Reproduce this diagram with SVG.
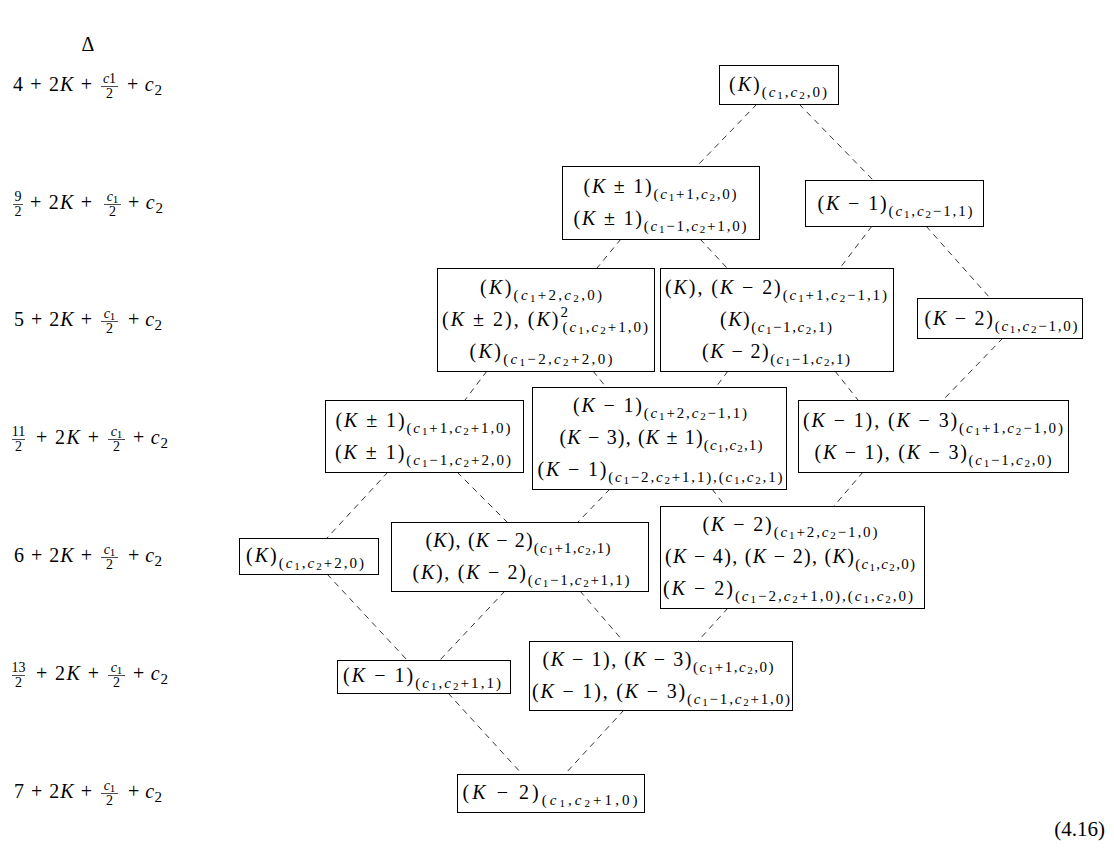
<svg xmlns="http://www.w3.org/2000/svg" width="1114" height="857" viewBox="0 0 1114 857">
<style>
text{font-family:"Liberation Serif","Times New Roman",serif;font-size:20px;fill:#000}
.i{font-style:italic}
.s{font-size:15px}
.ss{font-size:11px}
.f{font-size:14px}
.m{text-anchor:middle}
.bx{fill:#fff;stroke:#000;stroke-width:1}
.cn line{stroke:#000;stroke-width:0.8;stroke-dasharray:6 5;fill:none}
.fb{stroke:#000;stroke-width:0.7}
</style>
<rect width="1114" height="857" fill="#fff"/>
<g id="labels">
<text x="88" y="51" class="m">Δ</text>
<text x="13" y="91" textLength="79">4 + 2<tspan class="i">K</tspan> +</text>
<text x="109.5" y="83" class="m f"><tspan class="i">c</tspan>1</text><line class="fb" x1="101" y1="86.5" x2="118" y2="86.5"/><text x="109.5" y="98" class="m f">2</text>
<text x="127" y="91" textLength="35">+ <tspan class="i">c</tspan><tspan class="s" dy="4">2</tspan></text>

<text x="18" y="201" class="m f">9</text><line class="fb" x1="13" y1="204.5" x2="23" y2="204.5"/><text x="18" y="216" class="m f">2</text>
<text x="30" y="209" textLength="62">+ 2<tspan class="i">K</tspan> +</text>
<text x="112.5" y="201" class="m f"><tspan class="i">c</tspan><tspan class="ss" dy="2">1</tspan></text><line class="fb" x1="104" y1="204.5" x2="121" y2="204.5"/><text x="112.5" y="216" class="m f">2</text>
<text x="128" y="209" textLength="35">+ <tspan class="i">c</tspan><tspan class="s" dy="4">2</tspan></text>

<text x="14" y="326" textLength="78">5 + 2<tspan class="i">K</tspan> +</text>
<text x="109.5" y="318" class="m f"><tspan class="i">c</tspan><tspan class="ss" dy="2">1</tspan></text><line class="fb" x1="101" y1="321.5" x2="118" y2="321.5"/><text x="109.5" y="333" class="m f">2</text>
<text x="128" y="326" textLength="34">+ <tspan class="i">c</tspan><tspan class="s" dy="4">2</tspan></text>

<text x="18.5" y="436" class="m f">11</text><line class="fb" x1="12" y1="439.5" x2="25" y2="439.5"/><text x="18.5" y="451" class="m f">2</text>
<text x="36" y="444" textLength="63">+ 2<tspan class="i">K</tspan> +</text>
<text x="116.5" y="436" class="m f"><tspan class="i">c</tspan><tspan class="ss" dy="2">1</tspan></text><line class="fb" x1="108" y1="439.5" x2="125" y2="439.5"/><text x="116.5" y="451" class="m f">2</text>
<text x="133" y="444" textLength="35">+ <tspan class="i">c</tspan><tspan class="s" dy="4">2</tspan></text>

<text x="14" y="562" textLength="78">6 + 2<tspan class="i">K</tspan> +</text>
<text x="109.5" y="554" class="m f"><tspan class="i">c</tspan><tspan class="ss" dy="2">1</tspan></text><line class="fb" x1="101" y1="557.5" x2="118" y2="557.5"/><text x="109.5" y="569" class="m f">2</text>
<text x="128" y="562" textLength="34">+ <tspan class="i">c</tspan><tspan class="s" dy="4">2</tspan></text>

<text x="18.5" y="672" class="m f">13</text><line class="fb" x1="12" y1="675.5" x2="25" y2="675.5"/><text x="18.5" y="687" class="m f">2</text>
<text x="36" y="680" textLength="63">+ 2<tspan class="i">K</tspan> +</text>
<text x="116.5" y="672" class="m f"><tspan class="i">c</tspan><tspan class="ss" dy="2">1</tspan></text><line class="fb" x1="108" y1="675.5" x2="125" y2="675.5"/><text x="116.5" y="687" class="m f">2</text>
<text x="133" y="680" textLength="35">+ <tspan class="i">c</tspan><tspan class="s" dy="4">2</tspan></text>

<text x="14" y="798" textLength="78">7 + 2<tspan class="i">K</tspan> +</text>
<text x="109.5" y="790" class="m f"><tspan class="i">c</tspan><tspan class="ss" dy="2">1</tspan></text><line class="fb" x1="101" y1="793.5" x2="118" y2="793.5"/><text x="109.5" y="805" class="m f">2</text>
<text x="128" y="798" textLength="34">+ <tspan class="i">c</tspan><tspan class="s" dy="4">2</tspan></text>

<text x="1105" y="836" text-anchor="end" style="font-size:21px">(4.16)</text>
</g>
<g id="connectors" class="cn">
<line x1="757" y1="104" x2="697" y2="166"/>
<line x1="799" y1="104" x2="873" y2="180"/>
<line x1="621" y1="239" x2="597" y2="268"/>
<line x1="700" y1="239" x2="727" y2="268"/>
<line x1="872" y1="226" x2="840" y2="268"/>
<line x1="926" y1="226" x2="990" y2="298"/>
<line x1="487" y1="371" x2="465" y2="400"/>
<line x1="593" y1="371" x2="606" y2="387"/>
<line x1="728" y1="371" x2="716" y2="387"/>
<line x1="835" y1="371" x2="858" y2="400"/>
<line x1="1003" y1="338" x2="943" y2="400"/>
<line x1="388" y1="472" x2="327" y2="538"/>
<line x1="457" y1="472" x2="507" y2="522"/>
<line x1="610" y1="489" x2="578" y2="522"/>
<line x1="712" y1="489" x2="725" y2="506"/>
<line x1="863" y1="472" x2="834" y2="506"/>
<line x1="327" y1="574" x2="407" y2="660"/>
<line x1="505" y1="591" x2="440" y2="660"/>
<line x1="580" y1="591" x2="623" y2="641"/>
<line x1="728" y1="608" x2="698" y2="641"/>
<line x1="448" y1="693" x2="522" y2="774"/>
<line x1="624" y1="710" x2="565" y2="774"/>
</g>
<g id="n1"><rect class="bx" x="719.5" y="65.5" width="119" height="39"/>
<text x="778" y="91" class="m" textLength="98">(<tspan class="i">K</tspan>)<tspan class="s" dy="5.5">(<tspan class="i">c</tspan><tspan class="ss" dy="2.5">1</tspan><tspan dy="-2.5">,</tspan><tspan class="i">c</tspan><tspan class="ss" dy="2.5">2</tspan><tspan dy="-2.5">,0)</tspan></tspan></text></g>
<g id="n2"><rect class="bx" x="562.5" y="166.5" width="197" height="73"/>
<text x="660" y="193" class="m" textLength="153">(<tspan class="i">K</tspan> ± 1)<tspan class="s" dy="5.5">(<tspan class="i">c</tspan><tspan class="ss" dy="2.5">1</tspan><tspan dy="-2.5">+1,</tspan><tspan class="i">c</tspan><tspan class="ss" dy="2.5">2</tspan><tspan dy="-2.5">,0)</tspan></tspan></text>
<text x="660" y="225" class="m" textLength="173">(<tspan class="i">K</tspan> ± 1)<tspan class="s" dy="5.5">(<tspan class="i">c</tspan><tspan class="ss" dy="2.5">1</tspan><tspan dy="-2.5">−1,</tspan><tspan class="i">c</tspan><tspan class="ss" dy="2.5">2</tspan><tspan dy="-2.5">+1,0)</tspan></tspan></text></g>
<g id="n3"><rect class="bx" x="805.5" y="180.5" width="178" height="46"/>
<text x="895" y="210" class="m" textLength="155">(<tspan class="i">K</tspan> − 1)<tspan class="s" dy="5.5">(<tspan class="i">c</tspan><tspan class="ss" dy="2.5">1</tspan><tspan dy="-2.5">,</tspan><tspan class="i">c</tspan><tspan class="ss" dy="2.5">2</tspan><tspan dy="-2.5">−1,1)</tspan></tspan></text></g>
<g id="n4"><rect class="bx" x="437.5" y="268.5" width="217" height="103"/>
<text x="541" y="294" class="m" textLength="122">(<tspan class="i">K</tspan>)<tspan class="s" dy="5.5">(<tspan class="i">c</tspan><tspan class="ss" dy="2.5">1</tspan><tspan dy="-2.5">+2,</tspan><tspan class="i">c</tspan><tspan class="ss" dy="2.5">2</tspan><tspan dy="-2.5">,0)</tspan></tspan></text>
<text x="545" y="326" class="m" textLength="206">(<tspan class="i">K</tspan> ± 2), (<tspan class="i">K</tspan>)<tspan class="s" dy="-9">2</tspan><tspan class="s" dx="-7.5" dy="14.5">(<tspan class="i">c</tspan><tspan class="ss" dy="2.5">1</tspan><tspan dy="-2.5">,</tspan><tspan class="i">c</tspan><tspan class="ss" dy="2.5">2</tspan><tspan dy="-2.5">+1,0)</tspan></tspan></text>
<text x="541" y="358" class="m" textLength="143">(<tspan class="i">K</tspan>)<tspan class="s" dy="5.5">(<tspan class="i">c</tspan><tspan class="ss" dy="2.5">1</tspan><tspan dy="-2.5">−2,</tspan><tspan class="i">c</tspan><tspan class="ss" dy="2.5">2</tspan><tspan dy="-2.5">+2,0)</tspan></tspan></text></g>
<g id="n5"><rect class="bx" x="660.5" y="268.5" width="233" height="103"/>
<text x="776" y="294" class="m" textLength="222">(<tspan class="i">K</tspan>), (<tspan class="i">K</tspan> − 2)<tspan class="s" dy="5.5">(<tspan class="i">c</tspan><tspan class="ss" dy="2.5">1</tspan><tspan dy="-2.5">+1,</tspan><tspan class="i">c</tspan><tspan class="ss" dy="2.5">2</tspan><tspan dy="-2.5">−1,1)</tspan></tspan></text>
<text x="776" y="326" class="m" textLength="112">(<tspan class="i">K</tspan>)<tspan class="s" dy="5.5">(<tspan class="i">c</tspan><tspan class="ss" dy="2.5">1</tspan><tspan dy="-2.5">−1,</tspan><tspan class="i">c</tspan><tspan class="ss" dy="2.5">2</tspan><tspan dy="-2.5">,1)</tspan></tspan></text>
<text x="776" y="358" class="m" textLength="148">(<tspan class="i">K</tspan> − 2)<tspan class="s" dy="5.5">(<tspan class="i">c</tspan><tspan class="ss" dy="2.5">1</tspan><tspan dy="-2.5">−1,</tspan><tspan class="i">c</tspan><tspan class="ss" dy="2.5">2</tspan><tspan dy="-2.5">,1)</tspan></tspan></text></g>
<g id="n6"><rect class="bx" x="917.5" y="298.5" width="165" height="40"/>
<text x="1001" y="325" class="m" textLength="153">(<tspan class="i">K</tspan> − 2)<tspan class="s" dy="5.5">(<tspan class="i">c</tspan><tspan class="ss" dy="2.5">1</tspan><tspan dy="-2.5">,</tspan><tspan class="i">c</tspan><tspan class="ss" dy="2.5">2</tspan><tspan dy="-2.5">−1,0)</tspan></tspan></text></g>
<g id="n7"><rect class="bx" x="325.5" y="400.5" width="198" height="72"/>
<text x="423" y="427" class="m" textLength="175">(<tspan class="i">K</tspan> ± 1)<tspan class="s" dy="5.5">(<tspan class="i">c</tspan><tspan class="ss" dy="2.5">1</tspan><tspan dy="-2.5">+1,</tspan><tspan class="i">c</tspan><tspan class="ss" dy="2.5">2</tspan><tspan dy="-2.5">+1,0)</tspan></tspan></text>
<text x="423" y="459" class="m" textLength="176">(<tspan class="i">K</tspan> ± 1)<tspan class="s" dy="5.5">(<tspan class="i">c</tspan><tspan class="ss" dy="2.5">1</tspan><tspan dy="-2.5">−1,</tspan><tspan class="i">c</tspan><tspan class="ss" dy="2.5">2</tspan><tspan dy="-2.5">+2,0)</tspan></tspan></text></g>
<g id="n8"><rect class="bx" x="532.5" y="387.5" width="254" height="102"/>
<text x="660" y="412" class="m" textLength="174">(<tspan class="i">K</tspan> − 1)<tspan class="s" dy="5.5">(<tspan class="i">c</tspan><tspan class="ss" dy="2.5">1</tspan><tspan dy="-2.5">+2,</tspan><tspan class="i">c</tspan><tspan class="ss" dy="2.5">2</tspan><tspan dy="-2.5">−1,1)</tspan></tspan></text>
<text x="661" y="444" class="m" textLength="203">(<tspan class="i">K</tspan> − 3), (<tspan class="i">K</tspan> ± 1)<tspan class="s" dy="5.5">(<tspan class="i">c</tspan><tspan class="ss" dy="2.5">1</tspan><tspan dy="-2.5">,</tspan><tspan class="i">c</tspan><tspan class="ss" dy="2.5">2</tspan><tspan dy="-2.5">,1)</tspan></tspan></text>
<text x="660" y="476" class="m" textLength="245">(<tspan class="i">K</tspan> − 1)<tspan class="s" dy="5.5">(<tspan class="i">c</tspan><tspan class="ss" dy="2.5">1</tspan><tspan dy="-2.5">−2,</tspan><tspan class="i">c</tspan><tspan class="ss" dy="2.5">2</tspan><tspan dy="-2.5">+1,1),(</tspan><tspan class="i">c</tspan><tspan class="ss" dy="2.5">1</tspan><tspan dy="-2.5">,</tspan><tspan class="i">c</tspan><tspan class="ss" dy="2.5">2</tspan><tspan dy="-2.5">,1)</tspan></tspan></text></g>
<g id="n9"><rect class="bx" x="798.5" y="400.5" width="270" height="72"/>
<text x="933" y="427" class="m" textLength="260">(<tspan class="i">K</tspan> − 1), (<tspan class="i">K</tspan> − 3)<tspan class="s" dy="5.5">(<tspan class="i">c</tspan><tspan class="ss" dy="2.5">1</tspan><tspan dy="-2.5">+1,</tspan><tspan class="i">c</tspan><tspan class="ss" dy="2.5">2</tspan><tspan dy="-2.5">−1,0)</tspan></tspan></text>
<text x="933" y="459" class="m" textLength="237">(<tspan class="i">K</tspan> − 1), (<tspan class="i">K</tspan> − 3)<tspan class="s" dy="5.5">(<tspan class="i">c</tspan><tspan class="ss" dy="2.5">1</tspan><tspan dy="-2.5">−1,</tspan><tspan class="i">c</tspan><tspan class="ss" dy="2.5">2</tspan><tspan dy="-2.5">,0)</tspan></tspan></text></g>
<g id="n10"><rect class="bx" x="239.5" y="538.5" width="139" height="36"/>
<text x="305" y="562" class="m" textLength="118">(<tspan class="i">K</tspan>)<tspan class="s" dy="5.5">(<tspan class="i">c</tspan><tspan class="ss" dy="2.5">1</tspan><tspan dy="-2.5">,</tspan><tspan class="i">c</tspan><tspan class="ss" dy="2.5">2</tspan><tspan dy="-2.5">+2,0)</tspan></tspan></text></g>
<g id="n11"><rect class="bx" x="391.5" y="522.5" width="257" height="69"/>
<text x="518" y="547" class="m" textLength="185">(<tspan class="i">K</tspan>), (<tspan class="i">K</tspan> − 2)<tspan class="s" dy="5.5">(<tspan class="i">c</tspan><tspan class="ss" dy="2.5">1</tspan><tspan dy="-2.5">+1,</tspan><tspan class="i">c</tspan><tspan class="ss" dy="2.5">2</tspan><tspan dy="-2.5">,1)</tspan></tspan></text>
<text x="521" y="579" class="m" textLength="217">(<tspan class="i">K</tspan>), (<tspan class="i">K</tspan> − 2)<tspan class="s" dy="5.5">(<tspan class="i">c</tspan><tspan class="ss" dy="2.5">1</tspan><tspan dy="-2.5">−1,</tspan><tspan class="i">c</tspan><tspan class="ss" dy="2.5">2</tspan><tspan dy="-2.5">+1,1)</tspan></tspan></text></g>
<g id="n12"><rect class="bx" x="660.5" y="506.5" width="264" height="102"/>
<text x="790" y="531" class="m" textLength="175">(<tspan class="i">K</tspan> − 2)<tspan class="s" dy="5.5">(<tspan class="i">c</tspan><tspan class="ss" dy="2.5">1</tspan><tspan dy="-2.5">+2,</tspan><tspan class="i">c</tspan><tspan class="ss" dy="2.5">2</tspan><tspan dy="-2.5">−1,0)</tspan></tspan></text>
<text x="790" y="563" class="m" textLength="250">(<tspan class="i">K</tspan> − 4), (<tspan class="i">K</tspan> − 2), (<tspan class="i">K</tspan>)<tspan class="s" dy="5.5">(<tspan class="i">c</tspan><tspan class="ss" dy="2.5">1</tspan><tspan dy="-2.5">,</tspan><tspan class="i">c</tspan><tspan class="ss" dy="2.5">2</tspan><tspan dy="-2.5">,0)</tspan></tspan></text>
<text x="788" y="595" class="m" textLength="250">(<tspan class="i">K</tspan> − 2)<tspan class="s" dy="5.5">(<tspan class="i">c</tspan><tspan class="ss" dy="2.5">1</tspan><tspan dy="-2.5">−2,</tspan><tspan class="i">c</tspan><tspan class="ss" dy="2.5">2</tspan><tspan dy="-2.5">+1,0),(</tspan><tspan class="i">c</tspan><tspan class="ss" dy="2.5">1</tspan><tspan dy="-2.5">,</tspan><tspan class="i">c</tspan><tspan class="ss" dy="2.5">2</tspan><tspan dy="-2.5">,0)</tspan></tspan></text></g>
<g id="n13"><rect class="bx" x="337.5" y="660.5" width="173" height="33"/>
<text x="422" y="682" class="m" textLength="158">(<tspan class="i">K</tspan> − 1)<tspan class="s" dy="5.5">(<tspan class="i">c</tspan><tspan class="ss" dy="2.5">1</tspan><tspan dy="-2.5">,</tspan><tspan class="i">c</tspan><tspan class="ss" dy="2.5">2</tspan><tspan dy="-2.5">+1,1)</tspan></tspan></text></g>
<g id="n14"><rect class="bx" x="529.5" y="641.5" width="263" height="69"/>
<text x="658" y="666" class="m" textLength="231">(<tspan class="i">K</tspan> − 1), (<tspan class="i">K</tspan> − 3)<tspan class="s" dy="5.5">(<tspan class="i">c</tspan><tspan class="ss" dy="2.5">1</tspan><tspan dy="-2.5">+1,</tspan><tspan class="i">c</tspan><tspan class="ss" dy="2.5">2</tspan><tspan dy="-2.5">,0)</tspan></tspan></text>
<text x="661" y="698" class="m" textLength="258">(<tspan class="i">K</tspan> − 1), (<tspan class="i">K</tspan> − 3)<tspan class="s" dy="5.5">(<tspan class="i">c</tspan><tspan class="ss" dy="2.5">1</tspan><tspan dy="-2.5">−1,</tspan><tspan class="i">c</tspan><tspan class="ss" dy="2.5">2</tspan><tspan dy="-2.5">+1,0)</tspan></tspan></text></g>
<g id="n15"><rect class="bx" x="457.5" y="774.5" width="187" height="38"/>
<text x="550" y="799" class="m" textLength="175">(<tspan class="i">K</tspan> − 2)<tspan class="s" dy="5.5">(<tspan class="i">c</tspan><tspan class="ss" dy="2.5">1</tspan><tspan dy="-2.5">,</tspan><tspan class="i">c</tspan><tspan class="ss" dy="2.5">2</tspan><tspan dy="-2.5">+1,0)</tspan></tspan></text></g>
</svg>
